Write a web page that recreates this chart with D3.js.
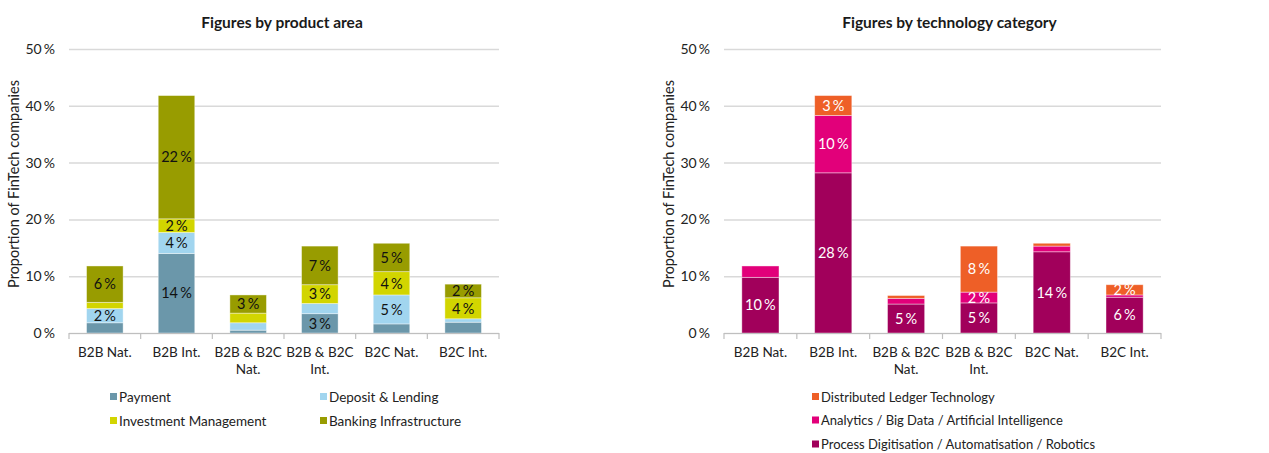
<!DOCTYPE html>
<html>
<head>
<meta charset="utf-8">
<script src="https://cdn.jsdelivr.net/npm/d3@7"></script>
<style>
  body { margin: 0; background: #fff; }
  svg { font-family: Lato, "Noto Sans", sans-serif; }
</style>
</head>
<body>
<svg id="canvas"></svg>
<script>
let width = 1269;
let height = 453;

// shared categories
let categories = ["B2B Nat.", "B2B Int.", "B2B & B2C Nat.", "B2B & B2C Int.", "B2C Nat.", "B2C Int."];
let yTicks = [0, 10, 20, 30, 40, 50];

// left chart: product area (values in %)
let productSeries = ["Payment", "Deposit & Lending", "Investment Management", "Banking Infrastructure"];
let payment = [1.8, 14.0, 0.5, 3.4, 1.6, 1.9];
let depositLending = [2.5, 3.7, 1.3, 1.8, 5.1, 0.6];
let investmentMgmt = [1.1, 2.4, 1.7, 3.3, 4.1, 3.7];
let bankingInfra = [6.4, 21.7, 3.2, 6.8, 5.0, 2.4];
let productLabels = [
  [null, "14 %", null, "3 %", null, null],
  ["2 %", "4 %", null, null, "5 %", null],
  [null, "2 %", null, "3 %", "4 %", "4 %"],
  ["6 %", "22 %", "3 %", "7 %", "5 %", "2 %"]
];
let productColors = ["#6b97aa", "#a1d5ef", "#d2d500", "#989c00"];

// right chart: technology category (values in %)
let techSeries = ["Process Digitisation / Automatisation / Robotics", "Analytics / Big Data / Artificial Intelligence", "Distributed Ledger Technology"];
let processDigit = [9.8, 28.2, 5.1, 5.3, 14.3, 6.3];
let analyticsAI = [2.0, 10.1, 1.0, 1.9, 1.0, 0.4];
let ledgerTech = [0.0, 3.5, 0.5, 8.1, 0.5, 1.8];
let techLabels = [
  ["10 %", "28 %", "5 %", "5 %", "14 %", "6 %"],
  [null, "10 %", null, "2 %", null, null],
  [null, "3 %", null, "8 %", null, "2 %"]
];
let techColors = ["#a1005b", "#e2007a", "#ee5f27"];

let canvas = d3.select("#canvas").attr("width", width).attr("height", height);

let wrapLabel = (textSel, maxWidth) => {
  textSel.each(function () {
    let text = d3.select(this);
    let words = text.text().split(" ");
    let x = text.attr("x") || 0;
    let y = text.attr("y");
    text.text(null);
    let line = [];
    let lineNo = 0;
    let tspan = text.append("tspan").attr("x", x).attr("y", y);
    words.forEach((w) => {
      line.push(w);
      tspan.text(line.join(" "));
      if (tspan.node().getComputedTextLength() > maxWidth && line.length > 1) {
        line.pop();
        tspan.text(line.join(" "));
        line = [w];
        lineNo++;
        tspan = text.append("tspan").attr("x", x).attr("y", y)
          .attr("dy", (lineNo * 17) + "px").text(w);
      }
    });
  });
};

let drawChart = (opts) => {
  let g = canvas.append("g");
  let top = 49, bottom = 333;

  let xScale = d3.scaleBand().domain(categories).range([opts.x0, opts.x1])
    .paddingInner(0.49).paddingOuter(0.245);
  let stepScale = d3.scaleBand().domain(categories).range([opts.x0, opts.x1]).padding(0);
  let yScale = d3.scaleLinear().domain([0, 50]).range([bottom, top]);

  // title
  g.append("text")
    .attr("x", (opts.x0 + opts.x1) / 2 - opts.titleShift)
    .attr("y", 28)
    .attr("text-anchor", "middle")
    .attr("font-size", 15.5)
    .attr("font-weight", "bold")
    .attr("fill", "#1a1a1a")
    .text(opts.title);

  // y axis with gridlines
  let yAxis = d3.axisLeft(yScale).tickValues(yTicks)
    .tickSize(-(opts.x1 - opts.x0)).tickFormat((d) => d + " %");
  let yg = g.append("g").attr("transform", "translate(" + opts.x0 + ",0)").call(yAxis);
  yg.select(".domain").remove();
  yg.selectAll(".tick line").attr("stroke", "#d9d9d9").attr("stroke-width", 1.5);
  yg.selectAll(".tick text").attr("x", -14).attr("font-size", 14).attr("fill", "#222")
    .attr("word-spacing", -1.5)
    .attr("font-family", "Lato, sans-serif");

  // y title
  g.append("text")
    .attr("transform", "translate(" + (opts.x0 - 50) + ",184) rotate(-90)")
    .attr("text-anchor", "middle")
    .attr("font-size", 14.5)
    .attr("fill", "#222")
    .text("Proportion of FinTech companies");

  // stacked bars
  let rows = categories.map((c, i) => {
    let row = { cat: c };
    opts.series.forEach((s, j) => { row[s] = opts.values[j][i]; });
    return row;
  });
  let stacked = d3.stack().keys(opts.series)(rows);

  let layers = g.selectAll(".layer").data(stacked).enter().append("g")
    .attr("fill", (d, j) => opts.colors[j]);
  layers.selectAll("rect").data((d) => d).enter().append("rect")
    .attr("x", (d) => xScale(d.data.cat))
    .attr("width", xScale.bandwidth())
    .attr("y", (d) => yScale(d[1]))
    .attr("height", (d) => yScale(d[0]) - yScale(d[1]))
    .attr("stroke", "#fff")
    .attr("stroke-opacity", 0.5)
    .attr("stroke-width", 0.8);

  // segment labels
  stacked.forEach((layer, j) => {
    layer.forEach((d, i) => {
      let lab = opts.labels[j][i];
      if (!lab) return;
      g.append("text")
        .attr("x", xScale(d.data.cat) + xScale.bandwidth() / 2)
        .attr("y", (yScale(d[0]) + yScale(d[1])) / 2)
        .attr("dy", "0.36em")
        .attr("text-anchor", "middle")
        .attr("font-size", 14.5)
        .attr("word-spacing", -1.5)
        .attr("fill", opts.labelColor)
        .text(lab);
    });
  });

  // x axis: baseline + boundary ticks + category labels
  g.append("line")
    .attr("x1", opts.x0).attr("x2", opts.x1)
    .attr("y1", bottom + 0.5).attr("y2", bottom + 0.5)
    .attr("stroke", "#bfbfbf").attr("stroke-width", 1.2);
  let bounds = categories.map((c) => stepScale(c)).concat([opts.x1]);
  g.selectAll(".xtick").data(bounds).enter().append("line")
    .attr("x1", (d) => d).attr("x2", (d) => d)
    .attr("y1", bottom).attr("y2", bottom + 6)
    .attr("stroke", "#bfbfbf").attr("stroke-width", 1.2);
  g.selectAll(".xlab").data(categories).enter().append("text")
    .attr("x", (d) => xScale(d) + xScale.bandwidth() / 2)
    .attr("y", 357)
    .attr("text-anchor", "middle")
    .attr("font-size", 13.5)
    .attr("fill", "#222")
    .text((d) => d)
    .call(wrapLabel, 76);

  // legend
  opts.legend.forEach((item) => {
    g.append("rect")
      .attr("x", item.x).attr("y", item.y - 4)
      .attr("width", 7).attr("height", 7)
      .attr("fill", opts.colors[item.idx]);
    g.append("text")
      .attr("x", item.x + 9).attr("y", item.y)
      .attr("dy", "0.36em")
      .attr("font-size", opts.legendSize)
      .attr("fill", "#222")
      .text(opts.series[item.idx]);
  });
};

drawChart({
  title: "Figures by product area",
  titleShift: 2,
  x0: 69, x1: 499,
  series: productSeries,
  values: [payment, depositLending, investmentMgmt, bankingInfra],
  labels: productLabels,
  colors: productColors,
  labelColor: "#111",
  legendSize: 13.5,
  legend: [
    { idx: 0, x: 110, y: 397 },
    { idx: 1, x: 320, y: 397 },
    { idx: 2, x: 110, y: 421 },
    { idx: 3, x: 320, y: 421 }
  ]
});

drawChart({
  title: "Figures by technology category",
  titleShift: -7,
  x0: 724, x1: 1161,
  series: techSeries,
  values: [processDigit, analyticsAI, ledgerTech],
  labels: techLabels,
  colors: techColors,
  labelColor: "#fff",
  legendSize: 13,
  legend: [
    { idx: 2, x: 812, y: 397 },
    { idx: 1, x: 812, y: 420.5 },
    { idx: 0, x: 812, y: 444.5 }
  ]
});
</script>
</body>
</html>
